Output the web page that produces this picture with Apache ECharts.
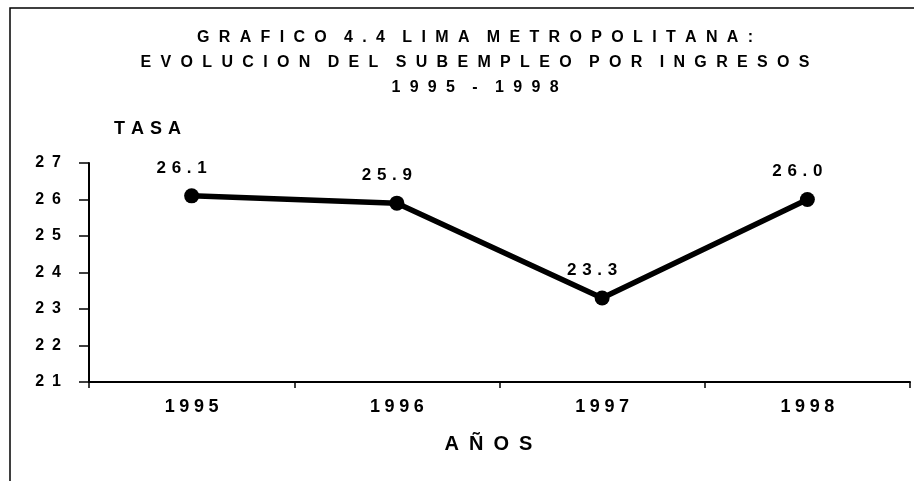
<!DOCTYPE html>
<html>
<head>
<meta charset="utf-8">
<script src="https://cdn.jsdelivr.net/npm/echarts@6/dist/echarts.min.js"></script>
<style>
  html, body { margin: 0; padding: 0; background: #fff; }
  #chart { width: 914px; height: 481px; }
</style>
</head>
<body>
<div id="chart"></div>
<script>
const years = ['1995', '1996', '1997', '1998']
const tasa = [26.1, 25.9, 23.3, 26.0]
const yTicks = [21, 22, 23, 24, 25, 26, 27]

// the scan has wide letter spacing, fake it with unicode spaces
const gap = '\u2002\u200A'
const spaced = (s, g) => s.split(' ').map(w => w.split('').join(g || gap)).join((g || gap) + '\u2002')

const chart = echarts.init(document.getElementById('chart'))

const font = 'Liberation Sans'
const ink = '#000'

const options = {
  backgroundColor: '#fff',
  animation: false,
  title: {
    text: spaced('GRAFICO 4.4 LIMA METROPOLITANA:') + '\n' +
          spaced('EVOLUCION DEL SUBEMPLEO POR INGRESOS') + '\n' +
          spaced('1995 - 1998'),
    left: 470,
    textAlign: 'center',
    top: 20,
    textStyle: {
      fontFamily: font,
      fontWeight: 'bold',
      fontSize: 16,
      lineHeight: 25,
      color: ink
    }
  },
  grid: {
    left: 89,
    right: 4,
    top: 163,
    bottom: 99
  },
  graphic: [{
    type: 'polyline',
    shape: { points: [[10, 481], [10, 8], [914, 8]] },
    style: { stroke: ink, lineWidth: 1.5, fill: null }
  }],
  xAxis: {
    type: 'category',
    data: years,
    boundaryGap: true,
    name: spaced('AÑOS', '\u2002'),
    nameLocation: 'middle',
    nameGap: 52,
    nameTextStyle: {
      fontFamily: font,
      fontWeight: 'bold',
      fontSize: 20,
      color: ink,
      padding: [0, 22, 0, 0]
    },
    axisLine: { lineStyle: { color: ink, width: 2 } },
    axisTick: { show: true, alignWithLabel: false, length: 6, lineStyle: { color: ink, width: 1.5 } },
    axisLabel: {
      fontFamily: font,
      fontWeight: 'bold',
      fontSize: 18,
      color: ink,
      margin: 16,
      formatter: (v) => v.split('').join('\u2005')
    },
    splitLine: { show: false }
  },
  yAxis: {
    type: 'value',
    min: yTicks[0],
    max: yTicks[yTicks.length - 1],
    interval: 1,
    name: spaced('TASA', '\u2004'),
    nameLocation: 'end',
    nameGap: 25,
    nameTextStyle: {
      fontFamily: font,
      fontWeight: 'bold',
      fontSize: 18,
      color: ink,
      align: 'left',
      padding: [0, 0, 0, 25]
    },
    axisLine: { show: true, lineStyle: { color: ink, width: 2 } },
    axisTick: { show: true, length: 10, lineStyle: { color: ink, width: 1.5 } },
    axisLabel: {
      fontFamily: font,
      fontWeight: 'bold',
      fontSize: 16,
      color: ink,
      margin: 28,
      formatter: (v) => String(v).split('').join('\u2002')
    },
    splitLine: { show: false }
  },
  series: [{
    type: 'line',
    data: tasa,
    symbol: 'circle',
    symbolSize: 15,
    lineStyle: { color: ink, width: 5.5 },
    itemStyle: { color: ink },
    label: {
      show: true,
      position: 'top',
      distance: 12,
      offset: [-10, 0],
      fontFamily: font,
      fontWeight: 'bold',
      fontSize: 17,
      color: ink,
      formatter: (p) => p.value.toFixed(1).split('').join('\u2004')
    }
  }]
}

chart.setOption(options)
</script>
</body>
</html>
